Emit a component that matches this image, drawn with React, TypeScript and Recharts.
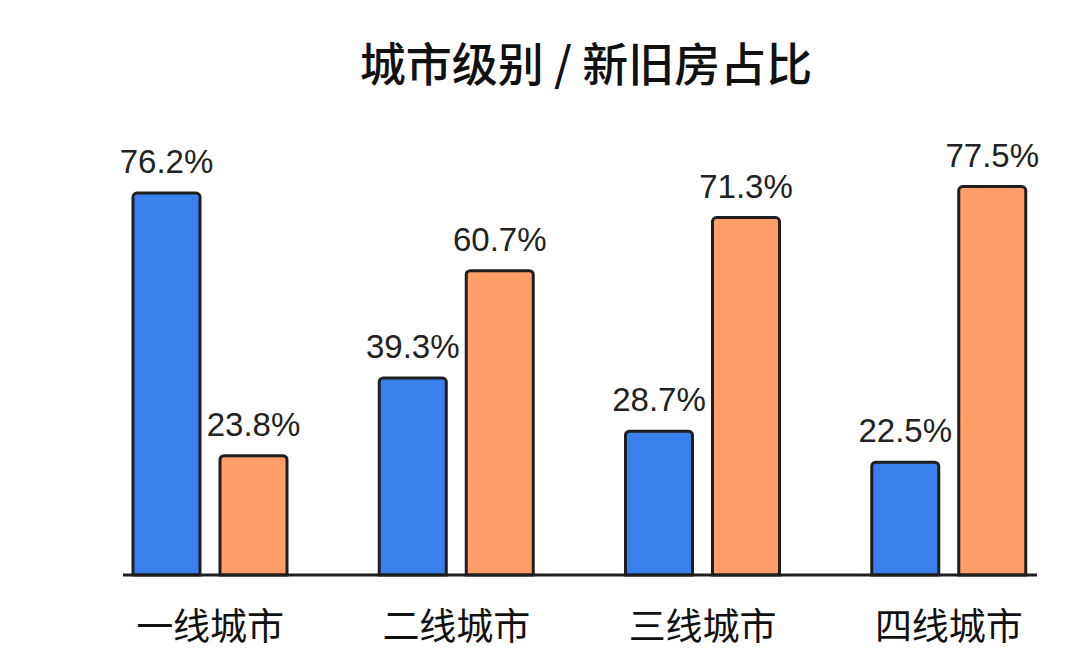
import React from "react";
import { BarChart, Bar, XAxis, YAxis, LabelList } from "recharts";

const cities = ["一线城市", "二线城市", "三线城市", "四线城市"];
const newHouse = [76.2, 39.3, 28.7, 22.5];
const oldHouse = [23.8, 60.7, 71.3, 77.5];
const title = "城市级别 / 新旧房占比";

const data = cities.map((c, i) => ({ city: c, newV: newHouse[i], oldV: oldHouse[i] }));

const BLUE = "#3A80EC";
const ORANGE = "#FF9E69";
const STROKE = "#1E1E1E";

const ValueLabel = (props: any) => {
  const { x, y, width, value } = props;
  return (
    <text
      x={x + width / 2}
      y={y - 20}
      textAnchor="middle"
      fontFamily="'Liberation Sans', Arial, sans-serif"
      fontSize={33}
      fill="#222"
    >
      {`${value}%`}
    </text>
  );
};

const CityTick = (props: any) => {
  const { x, y, payload } = props;
  return (
    <text
      x={x}
      y={y + 49}
      textAnchor="middle"
      dominantBaseline="central"
      fontFamily="'Noto Sans CJK SC', sans-serif"
      fontSize={37}
      fill="#111"
    >
      {payload.value}
    </text>
  );
};

export default function App() {
  return (
    <div style={{ position: "absolute", left: 0, top: 0, width: 1086, height: 662, background: "#fff" }}>
      <svg width={1086} height={120} style={{ position: "absolute", left: 0, top: 0 }}>
        <text
          x={586}
          y={81}
          textAnchor="middle"
          fontFamily="'Noto Sans CJK SC', sans-serif"
          fontSize={46}
          fontWeight={500}
          fill="#111"
        >
          {title}
        </text>
      </svg>
      <div style={{ position: "absolute", left: 0, top: 0 }}>
        <BarChart
          width={1086}
          height={662}
          data={data}
          margin={{ top: 174, right: 49, left: 123, bottom: 27 }}
          barGap={20}
          barSize={67}
        >
          <XAxis
            dataKey="city"
            height={60}
            axisLine={{ stroke: STROKE, strokeWidth: 3 }}
            tickLine={false}
            tickSize={0}
            tickMargin={0}
            padding={{ left: -36, right: -35 }}
            tick={<CityTick />}
            interval={0}
          />
          <YAxis hide domain={[0, 80]} />
          <Bar dataKey="newV" fill={BLUE} stroke={STROKE} strokeWidth={3} radius={[4, 4, 0, 0]} isAnimationActive={false}>
            <LabelList dataKey="newV" content={<ValueLabel />} />
          </Bar>
          <Bar dataKey="oldV" fill={ORANGE} stroke={STROKE} strokeWidth={3} radius={[4, 4, 0, 0]} isAnimationActive={false}>
            <LabelList dataKey="oldV" content={<ValueLabel />} />
          </Bar>
        </BarChart>
      </div>
    </div>
  );
}
